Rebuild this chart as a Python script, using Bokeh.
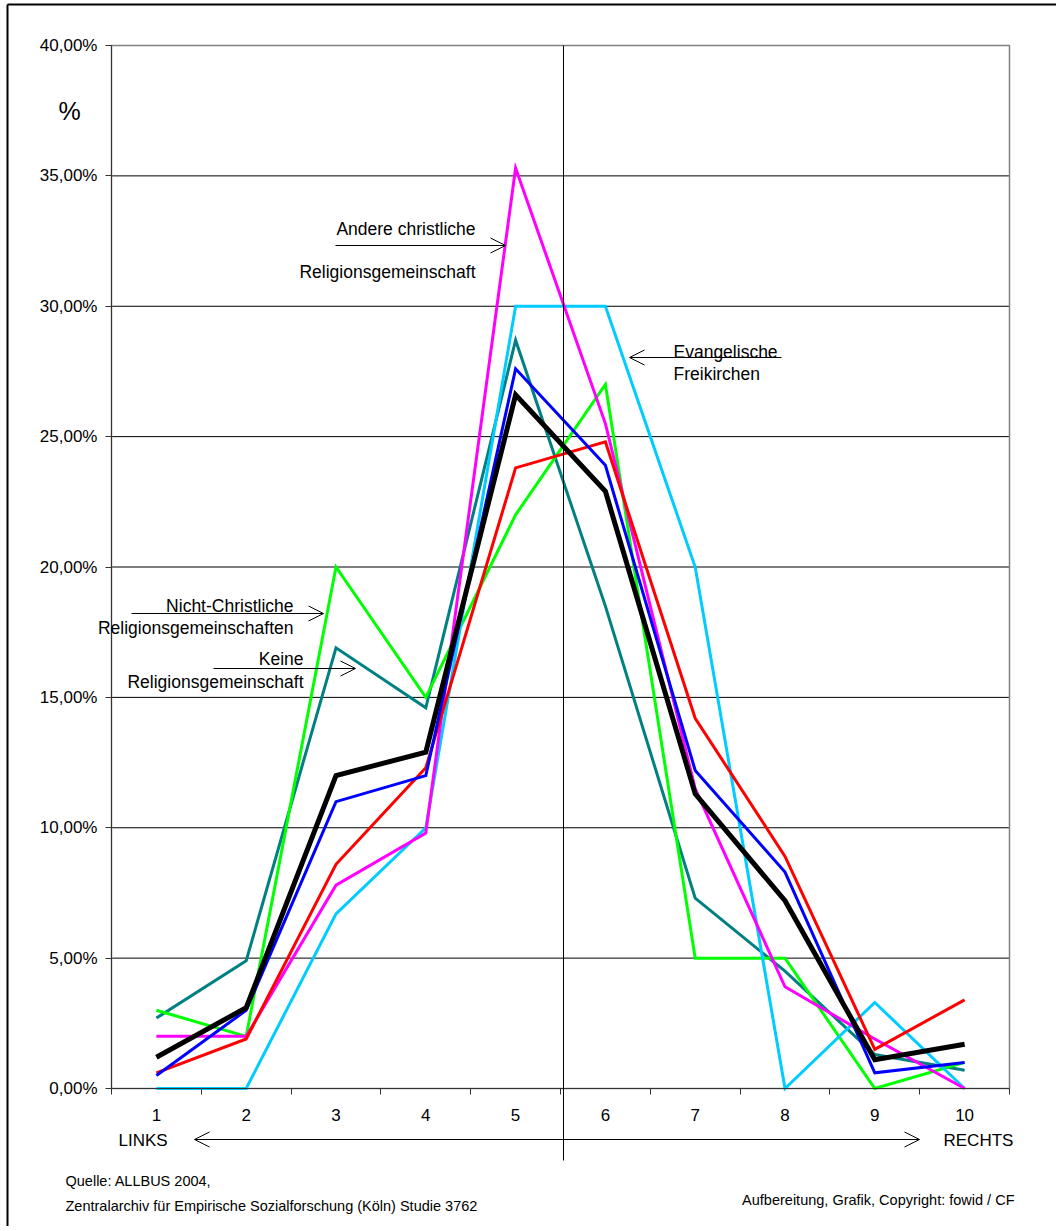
from bokeh.plotting import figure
from bokeh.models import (FixedTicker, Label, Arrow, OpenHead, BoxAnnotation,
                          LinearAxis)
from bokeh.embed import file_html
from bokeh.resources import INLINE

# ---------------- data ----------------
scale_points = [1, 2, 3, 4, 5, 6, 7, 8, 9, 10]
x_labels = ["1", "2", "3", "4", "5", "6", "7", "8", "9", "10"]
y_ticks = [0, 5, 10, 15, 20, 25, 30, 35, 40]
y_labels = ["0,00%", "5,00%", "10,00%", "15,00%", "20,00%", "25,00%", "30,00%", "35,00%", "40,00%"]

gesamt = [1.2, 3.1, 12.0, 12.9, 26.6, 22.9, 11.3, 7.2, 1.1, 1.7]
blau = [0.5, 3.0, 11.0, 12.0, 27.6, 23.9, 12.2, 8.3, 0.6, 1.0]
rot = [0.6, 1.9, 8.6, 12.3, 23.8, 24.8, 14.2, 8.9, 1.5, 3.4]
andere_christliche = [2.0, 2.0, 7.8, 9.8, 35.3, 25.5, 11.5, 3.9, 1.9, 0.0]
freikirchen = [0.0, 0.0, 6.7, 10.0, 30.0, 30.0, 20.0, 0.0, 3.3, 0.0]
nicht_christliche = [3.0, 2.0, 20.0, 15.0, 22.0, 27.0, 5.0, 5.0, 0.0, 1.0]
keine = [2.7, 4.9, 16.9, 14.6, 28.7, 18.5, 7.3, 4.5, 1.3, 0.7]

# ---------------- layout ----------------
W, H = 1056, 1226
FONT = "Liberation Sans"
FX0, FX1, FY0, FY1 = 111, 1009, 45, 1088  # plot-area edges on the page
X0, X1 = 0.5, 10.5
Y0, Y1 = y_ticks[0], y_ticks[-1]


def dx(px):
    return X0 + (px - FX0) * (X1 - X0) / (FX1 - FX0)


def dy(py):
    return Y0 + (FY1 - py) * (Y1 - Y0) / (FY1 - FY0)


p = figure(width=W, height=H, x_range=(dx(0), dx(W)), y_range=(dy(H), dy(0)),
           output_backend="svg", toolbar_location=None,
           x_axis_location=None, y_axis_location=None, min_border=0)
p.background_fill_color = "white"
p.border_fill_color = "white"
p.outline_line_color = None
# hide the automatic grids; grid lines are drawn only inside the plot area below
p.xgrid.grid_line_color = None
p.ygrid.grid_line_color = None
p.xgrid.visible = False
p.ygrid.visible = False


def seg(x0, y0, x1, y1, color="black", width=1):
    p.add_layout(Arrow(start=None, end=None, x_start=dx(x0), y_start=dy(y0),
                       x_end=dx(x1), y_end=dy(y1), line_color=color, line_width=width))


# outer frame (only its top and left edges fall on the page)
seg(7, 4, W + 10, 4, width=2)
seg(7, 4, 7, H + 10, width=2)

# plot-area outline
p.add_layout(BoxAnnotation(left=X0, right=X1, bottom=Y0, top=Y1,
                           fill_alpha=0, fill_color=None, line_color="#808080",
                           line_alpha=1, line_width=1.5, level="underlay"))

# horizontal grid lines inside the plot area (at the inner y ticks)
grid_y = y_ticks[1:-1]
p.segment(x0=[X0] * len(grid_y), x1=[X1] * len(grid_y), y0=grid_y, y1=grid_y,
          line_color="#000000", line_width=1, level="underlay")

# y axis
yax = LinearAxis(fixed_location=X0, bounds=(Y0, Y1), ticker=FixedTicker(ticks=y_ticks))
yax.major_label_overrides = {t: l for t, l in zip(y_ticks, y_labels)}
yax.minor_tick_line_color = None
yax.major_tick_in = 0
yax.major_tick_out = 6
yax.major_label_standoff = 8
yax.axis_line_color = "#333333"
yax.major_tick_line_color = "#333333"
yax.major_label_text_font = FONT
yax.major_label_text_font_size = "17px"
yax.major_label_text_color = "black"
p.add_layout(yax, "left")

# x axis: labels at categories, tick marks between categories
xax = LinearAxis(fixed_location=Y0, bounds=(X0, X1),
                 ticker=FixedTicker(ticks=scale_points,
                                    minor_ticks=[s - 0.5 for s in scale_points] + [scale_points[-1] + 0.5]))
xax.major_label_overrides = {s: l for s, l in zip(scale_points, x_labels)}
xax.major_tick_in = 0
xax.major_tick_out = 0
xax.minor_tick_in = 0
xax.minor_tick_out = 6
xax.minor_tick_line_color = "#333333"
xax.axis_line_color = "#333333"
xax.major_label_standoff = 14
xax.major_label_text_font = FONT
xax.major_label_text_font_size = "17px"
xax.major_label_text_color = "black"
p.add_layout(xax, "below")

# ---------------- series ----------------
series = [keine, nicht_christliche, freikirchen, andere_christliche, rot, blau, gesamt]
colors = ["#008080", "#00FF00", "#00CCFF", "#FF00FF", "#FF0000", "#0000FF", "#000000"]
widths = [3, 3, 3, 3, 3, 3, 5]
for vals, c, w in zip(series, colors, widths):
    p.line(scale_points, vals, line_color=c, line_width=w, line_join="miter")

# vertical divider (extends below the axis)
seg(563, 45, 563, 1160)


def label(px, py, text, align="left", size="17.5px"):
    p.add_layout(Label(x=dx(px), y=dy(py), text=text, text_align=align,
                       text_baseline="middle", text_font=FONT,
                       text_font_size=size, text_color="black"))


def arrow(x0, y0, x1, y1, both=False):
    p.add_layout(Arrow(x_start=dx(x0), y_start=dy(y0), x_end=dx(x1), y_end=dy(y1),
                       line_color="black", line_width=1,
                       end=OpenHead(size=15, line_width=1, line_color="black"),
                       start=OpenHead(size=15, line_width=1, line_color="black") if both else None))


label(69, 110, "%", "center", "25px")

label(475, 228, "Andere christliche", "right")
label(475, 271, "Religionsgemeinschaft", "right")
arrow(335, 245, 505, 245)

label(673, 351, "Evangelische")
label(673, 373, "Freikirchen")
arrow(781, 357, 629, 357)

label(293, 605, "Nicht-Christliche", "right")
label(293, 627, "Religionsgemeinschaften", "right")
arrow(131, 613, 323, 613)

label(303, 658, "Keine", "right")
label(303, 681, "Religionsgemeinschaft", "right")
arrow(213, 668, 355, 668)

label(118, 1140, "LINKS", size="17px")
label(943, 1140, "RECHTS", size="17px")
arrow(194, 1139, 919, 1139, both=True)

label(65, 1180, "Quelle: ALLBUS 2004,", size="14.5px")
label(65, 1205, "Zentralarchiv für Empirische Sozialforschung (Köln) Studie 3762", size="14.5px")
label(1014, 1199, "Aufbereitung, Grafik, Copyright: fowid / CF", "right", size="14.5px")

open("out.html", "w").write(file_html(p, INLINE))
